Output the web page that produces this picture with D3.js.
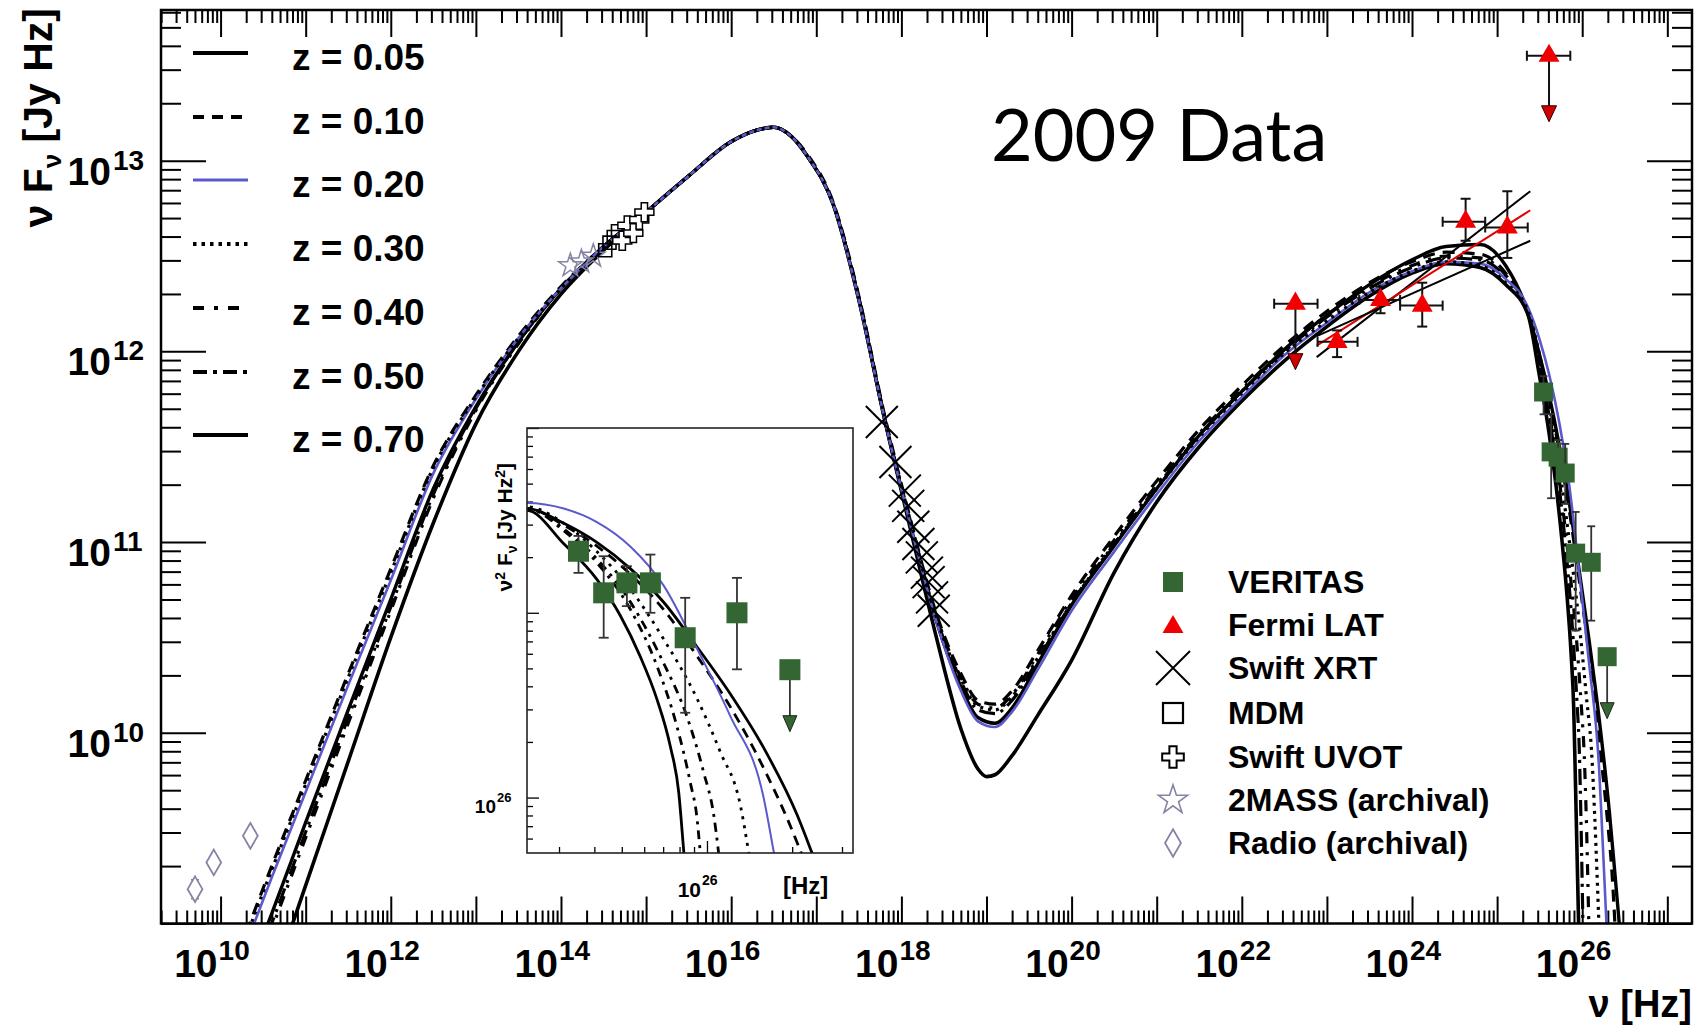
<!DOCTYPE html>
<html>
<head>
  <meta charset="utf-8">
  <title>SED model curves - 2009 Data</title>
  <script src="https://d3js.org/d3.v7.min.js"></script>
  <style>
    body { margin: 0; background: #fff; }
    svg text { font-family: "Liberation Sans", Arial, Helvetica, sans-serif; font-weight: bold; fill: #000; }
    .frame { fill: none; stroke: #000; stroke-width: 2.5px; }
    .axis path { display: none; }
    .axis line { stroke: #000; stroke-width: 2px; }
    .inaxis line { stroke: #000; stroke-width: 1.3px; }
    .inaxis path { display: none; }
  </style>
</head>
<body>
<svg id="chart" width="1704" height="1026"></svg>
<script>
// ---------- data, all values are log10 (nu in Hz, nuFnu in Jy Hz) ----------
var redshifts = ["0.05", "0.10", "0.20", "0.30", "0.40", "0.50", "0.70"];

var sedZ005 = [[10.3,8.70],[10.6,9.05],[11.0,9.53],[11.5,10.12],[12.0,10.70],[12.5,11.28],[13.0,11.71],[13.5,12.05],[14.0,12.33],[14.5,12.55],[15.0,12.73],[15.5,12.92],[16.0,13.10],[16.3,13.16],[16.5,13.175],[16.7,13.13],[16.9,13.02],[17.2,12.77],[17.5,12.27],[17.8,11.65],[18.1,11.10],[18.4,10.60],[18.7,10.24],[18.9,10.08],[19.1,10.05],[19.3,10.13],[19.6,10.36],[20.0,10.67],[20.5,10.98],[21.0,11.28],[21.5,11.56],[22.0,11.79],[22.5,12.01],[23.0,12.19],[23.5,12.35],[24.0,12.48],[24.4,12.55],[24.8,12.56],[25.1,12.45],[25.364,12.20],[25.494,11.99],[25.611,11.77],[25.729,11.51],[25.847,11.21],[25.965,10.85],[26.082,10.48],[26.2,10.07],[26.318,9.59],[26.371,9.33],[26.445,8.95]];
var sedZ010 = [[10.3,8.95],[10.6,9.30],[11.0,9.75],[11.5,10.31],[12.0,10.86],[12.5,11.40],[13.0,11.77],[13.5,12.08],[14.0,12.34],[14.5,12.55],[15.0,12.73],[15.5,12.92],[16.0,13.10],[16.3,13.16],[16.5,13.175],[16.7,13.13],[16.9,13.03],[17.2,12.78],[17.5,12.29],[17.8,11.67],[18.1,11.13],[18.4,10.64],[18.7,10.31],[18.9,10.17],[19.1,10.15],[19.3,10.22],[19.6,10.43],[20.0,10.72],[20.5,11.03],[21.0,11.32],[21.5,11.59],[22.0,11.82],[22.5,12.03],[23.0,12.21],[23.5,12.36],[24.0,12.47],[24.4,12.52],[24.8,12.51],[25.1,12.41],[25.364,12.20],[25.494,11.98],[25.611,11.75],[25.729,11.48],[25.847,11.17],[25.965,10.80],[26.082,10.41],[26.2,9.96],[26.318,9.44],[26.34,9.33],[26.39,8.95]];
var sedZ020 = [[10.3,8.89],[10.6,9.24],[11.0,9.69],[11.5,10.25],[12.0,10.80],[12.5,11.36],[13.0,11.75],[13.5,12.07],[14.0,12.33],[14.5,12.55],[15.0,12.73],[15.5,12.92],[16.0,13.10],[16.3,13.16],[16.5,13.175],[16.7,13.13],[16.9,13.02],[17.2,12.77],[17.5,12.27],[17.8,11.65],[18.1,11.10],[18.4,10.60],[18.7,10.22],[18.9,10.06],[19.1,10.03],[19.3,10.11],[19.6,10.33],[20.0,10.64],[20.5,10.95],[21.0,11.25],[21.5,11.53],[22.0,11.76],[22.5,11.98],[23.0,12.15],[23.5,12.31],[24.0,12.42],[24.4,12.47],[24.8,12.46],[25.1,12.38],[25.364,12.23],[25.494,12.07],[25.611,11.88],[25.729,11.63],[25.847,11.30],[25.965,10.84],[26.082,10.36],[26.2,9.80],[26.236,9.47],[26.29,8.95]];
var sedZ030 = [[10.3,8.93],[10.6,9.28],[11.0,9.73],[11.5,10.29],[12.0,10.84],[12.5,11.39],[13.0,11.76],[13.5,12.07],[14.0,12.33],[14.5,12.55],[15.0,12.73],[15.5,12.92],[16.0,13.10],[16.3,13.16],[16.5,13.175],[16.7,13.13],[16.9,13.02],[17.2,12.77],[17.5,12.28],[17.8,11.66],[18.1,11.12],[18.4,10.62],[18.7,10.28],[18.9,10.14],[19.1,10.12],[19.3,10.19],[19.6,10.39],[20.0,10.68],[20.5,10.99],[21.0,11.28],[21.5,11.55],[22.0,11.78],[22.5,11.99],[23.0,12.16],[23.5,12.31],[24.0,12.42],[24.4,12.47],[24.8,12.45],[25.1,12.36],[25.364,12.21],[25.494,11.99],[25.611,11.72],[25.729,11.40],[25.847,11.01],[25.965,10.57],[26.047,10.20],[26.118,9.84],[26.147,9.56],[26.2,8.95]];
var sedZ040 = [[10.3,8.62],[10.6,8.97],[11.0,9.45],[11.5,10.05],[12.0,10.64],[12.5,11.23],[13.0,11.69],[13.5,12.04],[14.0,12.33],[14.5,12.55],[15.0,12.73],[15.5,12.92],[16.0,13.10],[16.3,13.16],[16.5,13.175],[16.7,13.13],[16.9,13.02],[17.2,12.77],[17.5,12.28],[17.8,11.66],[18.1,11.12],[18.4,10.63],[18.7,10.29],[18.9,10.15],[19.1,10.13],[19.3,10.20],[19.6,10.41],[20.0,10.70],[20.5,11.01],[21.0,11.30],[21.5,11.57],[22.0,11.80],[22.5,12.01],[23.0,12.19],[23.5,12.34],[24.0,12.45],[24.4,12.50],[24.8,12.49],[25.1,12.40],[25.364,12.20],[25.494,11.96],[25.611,11.68],[25.729,11.33],[25.847,10.88],[25.929,10.51],[25.988,10.15],[26.024,9.88],[26.041,9.66],[26.08,8.95]];
var sedZ050 = [[10.3,8.65],[10.6,9.00],[11.0,9.48],[11.5,10.08],[12.0,10.66],[12.5,11.25],[13.0,11.70],[13.5,12.05],[14.0,12.33],[14.5,12.55],[15.0,12.73],[15.5,12.92],[16.0,13.10],[16.3,13.16],[16.5,13.175],[16.7,13.13],[16.9,13.02],[17.2,12.77],[17.5,12.28],[17.8,11.65],[18.1,11.11],[18.4,10.62],[18.7,10.27],[18.9,10.12],[19.1,10.10],[19.3,10.17],[19.6,10.38],[20.0,10.68],[20.5,10.99],[21.0,11.29],[21.5,11.56],[22.0,11.79],[22.5,12.00],[23.0,12.18],[23.5,12.33],[24.0,12.44],[24.4,12.49],[24.8,12.48],[25.1,12.39],[25.364,12.20],[25.494,11.95],[25.611,11.66],[25.729,11.29],[25.823,10.89],[25.894,10.49],[25.941,10.14],[25.965,9.92],[25.976,9.73],[26.01,8.95]];
var sedZ070 = [[10.3,8.30],[10.6,8.68],[11.0,9.20],[11.5,9.85],[12.0,10.50],[12.5,11.10],[13.0,11.62],[13.5,12.00],[14.0,12.30],[14.5,12.53],[15.0,12.73],[15.5,12.92],[16.0,13.10],[16.3,13.16],[16.5,13.175],[16.7,13.13],[16.9,13.02],[17.2,12.77],[17.5,12.27],[17.8,11.65],[18.1,11.08],[18.4,10.52],[18.7,10.02],[18.9,9.81],[19.0,9.77],[19.1,9.78],[19.3,9.88],[19.6,10.09],[20.0,10.38],[20.5,10.84],[21.0,11.21],[21.5,11.50],[22.0,11.74],[22.5,11.95],[23.0,12.13],[23.5,12.29],[24.0,12.41],[24.4,12.46],[24.8,12.44],[25.1,12.35],[25.364,12.19],[25.494,11.88],[25.611,11.57],[25.694,11.29],[25.764,11.00],[25.823,10.71],[25.870,10.41],[25.900,10.13],[25.918,9.79],[25.96,8.95]];

var veritasNu    = [25.546, 25.635, 25.717, 25.800, 25.923, 26.106, 26.293];
var veritasFlux  = [11.787, 11.473, 11.445, 11.362, 10.942, 10.894, 10.399];
var veritasLo    = [11.670, 11.230, 11.319, 11.200, 10.536, 10.588, null];
var veritasHi    = [11.870, 11.671, 11.535, 11.515, 11.158, 11.083, null];
var veritasUL    = [false, false, false, false, false, false, true];

var fermiNu      = [22.63, 23.12, 23.63, 24.12, 24.63, 25.12, 25.61];
var fermiFlux    = [12.25, 12.05, 12.27, 12.24, 12.68, 12.65, 13.55];
var fermiNuLo    = [22.38, 22.89, 23.38, 23.86, 24.36, 24.86, 25.35];
var fermiNuHi    = [22.89, 23.36, 23.86, 24.36, 24.86, 25.36, 25.86];
var fermiLo      = [null, 11.97, 12.20, 12.13, 12.58, 12.49, null];
var fermiHi      = [null, 12.11, 12.34, 12.36, 12.80, 12.84, null];
var fermiUL      = [true, false, false, false, false, false, true];
// Fermi power-law fit (butterfly): [nu start, nu end, flux start, flux end]
var fermiFitUpper = [22.88, 25.39, 11.97, 12.84];
var fermiFitBest  = [22.88, 25.39, 12.03, 12.74];
var fermiFitLower = [22.88, 25.39, 12.08, 12.58];

var xrtNu   = [17.77, 17.93, 18.04, 18.08, 18.14, 18.20, 18.24, 18.30, 18.32, 18.36, 18.38];
var xrtFlux = [11.63, 11.42, 11.27, 11.19, 11.08, 10.99, 10.92, 10.84, 10.79, 10.71, 10.64];
var mdmNu   = [14.52, 14.57, 14.62, 14.67];
var mdmFlux = [12.53, 12.57, 12.60, 12.63];
var uvotNu   = [14.72, 14.78, 14.85, 14.92, 14.98];
var uvotFlux = [12.58, 12.66, 12.62, 12.69, 12.73];
var twomassNu   = [14.11, 14.24, 14.38];
var twomassFlux = [12.45, 12.47, 12.50];
var radioNu   = [9.70, 9.92, 10.35];
var radioFlux = [9.18, 9.32, 9.46];
var radioLo   = [9.13, null, null];
var radioHi   = [9.23, null, null];

var dataLegend = ["VERITAS", "Fermi LAT", "Swift XRT", "MDM", "Swift UVOT", "2MASS (archival)", "Radio (archival)"];

// ---------- layout ----------
var X0 = 161, X1 = 1692, Y0 = 10, Y1 = 923.5;
var IX0 = 527, IX1 = 853, IY0 = 428, IY1 = 853;
var GREEN = "#336633", BLUE = "#5a5acc", GREY = "#8484a4";

function p10(v) { return Math.pow(10, v); }

var svg = d3.select("#chart");
svg.append("rect").attr("width", 1704).attr("height", 1026).attr("fill", "#fff");

var x = d3.scaleLog().domain([p10(9.30), p10(27.29)]).range([X0, X1]);
var y = d3.scaleLog().domain([p10(9.0), p10(13.79)]).range([Y1, Y0]);

var defs = svg.append("defs");
defs.append("clipPath").attr("id", "clipMain").append("rect")
  .attr("x", X0).attr("y", Y0).attr("width", X1 - X0).attr("height", Y1 - Y0);
defs.append("clipPath").attr("id", "clipInset").append("rect")
  .attr("x", IX0).attr("y", IY0).attr("width", IX1 - IX0).attr("height", IY1 - IY0);

// styles per redshift
var seriesData = { "0.05": sedZ005, "0.10": sedZ010, "0.20": sedZ020, "0.30": sedZ030,
                   "0.40": sedZ040, "0.50": sedZ050, "0.70": sedZ070 };
var lineStyle = {
  "0.05": { color: "#000", width: 3.4, dash: null },
  "0.10": { color: "#000", width: 3.2, dash: "12,8" },
  "0.20": { color: BLUE,   width: 2.6, dash: null },
  "0.30": { color: "#000", width: 3.2, dash: "3,5" },
  "0.40": { color: "#000", width: 3.2, dash: "11,9,3,9" },
  "0.50": { color: "#000", width: 3.2, dash: "16,6,3,6" },
  "0.70": { color: "#000", width: 3.6, dash: null }
};
var drawOrder = ["0.05", "0.70", "0.50", "0.40", "0.10", "0.20", "0.30"];

// ---------- axes (ROOT style, ticks inside, mirrored) ----------
function decadeTicks(lo, hi) {
  var major = [], minor = [];
  for (var k = Math.floor(lo) - 1; k <= Math.ceil(hi); k++) {
    if (k >= lo && k <= hi) major.push(p10(k));
    for (var m = 2; m <= 9; m++) {
      var v = m * p10(k);
      if (Math.log10(v) > lo && Math.log10(v) < hi) minor.push(v);
    }
  }
  return { major: major, minor: minor };
}
var xt = decadeTicks(9.30, 27.29), yt = decadeTicks(9.0, 13.79);

function addAxis(axisFn, scale, values, size, transform) {
  svg.append("g").attr("class", "axis").attr("transform", transform)
    .call(axisFn(scale).tickValues(values).tickSize(-size).tickFormat(""));
}
addAxis(d3.axisBottom, x, xt.major, 27, "translate(0," + Y1 + ")");
addAxis(d3.axisBottom, x, xt.minor, 13, "translate(0," + Y1 + ")");
addAxis(d3.axisTop, x, xt.major, 27, "translate(0," + Y0 + ")");
addAxis(d3.axisTop, x, xt.minor, 13, "translate(0," + Y0 + ")");
addAxis(d3.axisLeft, y, yt.major, 45, "translate(" + X0 + ",0)");
addAxis(d3.axisLeft, y, yt.minor, 20, "translate(" + X0 + ",0)");
addAxis(d3.axisRight, y, yt.major, 45, "translate(" + X1 + ",0)");
addAxis(d3.axisRight, y, yt.minor, 20, "translate(" + X1 + ",0)");

// tick labels 10^n
var xLabelExp = [10, 12, 14, 16, 18, 20, 22, 24, 26];
var xl = svg.append("g").selectAll("g").data(xLabelExp).join("g")
  .attr("transform", function(d) { return "translate(" + x(p10(d)) + ",0)"; });
xl.append("text").attr("x", -3).attr("y", 977).attr("text-anchor", "end")
  .style("font-size", "39px").text("10");
xl.append("text").attr("x", -2).attr("y", 960).style("font-size", "28px")
  .text(function(d) { return d; });

var yLabelExp = [10, 11, 12, 13];
var yl = svg.append("g").selectAll("g").data(yLabelExp).join("g")
  .attr("transform", function(d) { return "translate(0," + y(p10(d)) + ")"; });
yl.append("text").attr("x", 111).attr("y", 24).attr("text-anchor", "end")
  .style("font-size", "39px").text("10");
yl.append("text").attr("x", 113).attr("y", 9).style("font-size", "28px")
  .text(function(d) { return d; });

// axis titles
var ytitle = svg.append("text").attr("transform", "translate(52,8) rotate(-90)")
  .attr("text-anchor", "end").style("font-size", "41px");
ytitle.append("tspan").text("\u03bd F");
ytitle.append("tspan").attr("dy", 9).style("font-size", "26px").text("\u03bd");
ytitle.append("tspan").attr("dy", -9).text(" [Jy Hz]");

svg.append("text").attr("x", X1).attr("y", 1017).attr("text-anchor", "end")
  .style("font-size", "38px").text("\u03bd [Hz]");

// ---------- model curves ----------
var line = d3.line()
  .x(function(d) { return x(p10(d[0])); })
  .y(function(d) { return y(p10(d[1])); })
  .curve(d3.curveMonotoneX);

var curves = svg.append("g").attr("clip-path", "url(#clipMain)");
drawOrder.forEach(function(z) {
  var st = lineStyle[z];
  curves.append("path").datum(seriesData[z]).attr("d", line)
    .attr("fill", "none").attr("stroke", st.color).attr("stroke-width", st.width)
    .attr("stroke-dasharray", st.dash).attr("stroke-linejoin", "round");
});

// ---------- markers ----------
var sym = d3.symbol();
function xPath(h) { return "M" + (-h) + "," + (-h) + "L" + h + "," + h + "M" + (-h) + "," + h + "L" + h + "," + (-h); }
function downTri(w, h) { return "M" + (-w / 2) + "," + (-h) + "L" + (w / 2) + "," + (-h) + "L0,0Z"; }

var marks = svg.append("g").attr("clip-path", "url(#clipMain)");

// radio
radioNu.forEach(function(n, i) {
  var cx = x(p10(n)), cy = y(p10(radioFlux[i]));
  if (radioLo[i] !== null) {
    marks.append("line").attr("x1", cx).attr("x2", cx).attr("y1", y(p10(radioLo[i]))).attr("y2", y(p10(radioHi[i])))
      .attr("stroke", GREY).attr("stroke-width", 1.5);
    [radioLo[i], radioHi[i]].forEach(function(v) {
      marks.append("line").attr("x1", cx - 4).attr("x2", cx + 4).attr("y1", y(p10(v))).attr("y2", y(p10(v)))
        .attr("stroke", GREY).attr("stroke-width", 1.5);
    });
  }
  marks.append("path").attr("transform", "translate(" + cx + "," + cy + ")")
    .attr("d", sym.type(d3.symbolDiamond).size(190)()).attr("fill", "#fff")
    .attr("stroke", GREY).attr("stroke-width", 1.8);
});
// 2MASS
twomassNu.forEach(function(n, i) {
  marks.append("path").attr("transform", "translate(" + x(p10(n)) + "," + y(p10(twomassFlux[i])) + ")")
    .attr("d", sym.type(d3.symbolStar).size(170)()).attr("fill", "none")
    .attr("stroke", GREY).attr("stroke-width", 1.5);
});
// MDM
mdmNu.forEach(function(n, i) {
  marks.append("path").attr("transform", "translate(" + x(p10(n)) + "," + y(p10(mdmFlux[i])) + ")")
    .attr("d", sym.type(d3.symbolSquare).size(170)()).attr("fill", "none")
    .attr("stroke", "#000").attr("stroke-width", 1.6);
});
// UVOT
uvotNu.forEach(function(n, i) {
  marks.append("path").attr("transform", "translate(" + x(p10(n)) + "," + y(p10(uvotFlux[i])) + ")")
    .attr("d", sym.type(d3.symbolCross).size(200)()).attr("fill", "#fff")
    .attr("stroke", "#000").attr("stroke-width", 1.5);
});
// XRT
xrtNu.forEach(function(n, i) {
  marks.append("path").attr("transform", "translate(" + x(p10(n)) + "," + y(p10(xrtFlux[i])) + ")")
    .attr("d", xPath(16)).attr("fill", "none").attr("stroke", "#000").attr("stroke-width", 2);
});

// Fermi butterfly
[[fermiFitUpper, "#000"], [fermiFitBest, "#e00000"], [fermiFitLower, "#000"]].forEach(function(f) {
  var d = f[0];
  marks.append("line").attr("x1", x(p10(d[0]))).attr("x2", x(p10(d[1])))
    .attr("y1", y(p10(d[2]))).attr("y2", y(p10(d[3])))
    .attr("stroke", f[1]).attr("stroke-width", 2);
});

// Fermi points
fermiNu.forEach(function(n, i) {
  var cx = x(p10(n)), cy = y(p10(fermiFlux[i]));
  var xa = x(p10(fermiNuLo[i])), xb = x(p10(fermiNuHi[i]));
  var eb = marks.append("g").attr("stroke", "#111").attr("stroke-width", 2);
  eb.append("line").attr("x1", xa).attr("x2", xb).attr("y1", cy).attr("y2", cy);
  eb.append("line").attr("x1", xa).attr("x2", xa).attr("y1", cy - 5).attr("y2", cy + 5);
  eb.append("line").attr("x1", xb).attr("x2", xb).attr("y1", cy - 5).attr("y2", cy + 5);
  if (fermiUL[i]) {
    eb.append("line").attr("x1", cx).attr("x2", cx).attr("y1", cy).attr("y2", cy + 52);
    marks.append("path").attr("transform", "translate(" + cx + "," + (cy + 66) + ")")
      .attr("d", downTri(15, 16)).attr("fill", "#d00000").attr("stroke", "#300").attr("stroke-width", 1);
  } else {
    var ya = y(p10(fermiLo[i])), yb = y(p10(fermiHi[i]));
    eb.append("line").attr("x1", cx).attr("x2", cx).attr("y1", ya).attr("y2", yb);
    eb.append("line").attr("x1", cx - 5).attr("x2", cx + 5).attr("y1", ya).attr("y2", ya);
    eb.append("line").attr("x1", cx - 5).attr("x2", cx + 5).attr("y1", yb).attr("y2", yb);
  }
  marks.append("path").attr("transform", "translate(" + cx + "," + cy + ")")
    .attr("d", sym.type(d3.symbolTriangle).size(190)()).attr("fill", "#f00000");
});

// VERITAS points
function drawVeritas(g, sx, sy, conv, sq, cap, arrow) {
  veritasNu.forEach(function(n, i) {
    var cx = sx(p10(n)), cy = sy(p10(conv(veritasFlux[i], n)));
    var eb = g.append("g").attr("stroke", "#333").attr("stroke-width", 1.8);
    if (veritasUL[i]) {
      eb.append("line").attr("x1", cx).attr("x2", cx).attr("y1", cy).attr("y2", cy + arrow - 14);
      g.append("path").attr("transform", "translate(" + cx + "," + (cy + arrow) + ")")
        .attr("d", downTri(14, 16)).attr("fill", GREEN).attr("stroke", "#222").attr("stroke-width", 1);
    } else {
      var ya = sy(p10(conv(veritasLo[i], n))), yb = sy(p10(conv(veritasHi[i], n)));
      eb.append("line").attr("x1", cx).attr("x2", cx).attr("y1", ya).attr("y2", yb);
      eb.append("line").attr("x1", cx - cap).attr("x2", cx + cap).attr("y1", ya).attr("y2", ya);
      eb.append("line").attr("x1", cx - cap).attr("x2", cx + cap).attr("y1", yb).attr("y2", yb);
    }
    g.append("rect").attr("x", cx - sq / 2).attr("y", cy - sq / 2).attr("width", sq).attr("height", sq)
      .attr("fill", GREEN);
  });
}
drawVeritas(marks, x, y, function(v) { return v; }, 19, 4, 62);

// ---------- frame ----------
svg.append("rect").attr("class", "frame").attr("x", X0).attr("y", Y0)
  .attr("width", X1 - X0).attr("height", Y1 - Y0);

// ---------- z legend ----------
var zRows = [53, 117, 180, 244, 308, 372, 435];
var zl = svg.append("g").selectAll("g").data(redshifts).join("g")
  .attr("transform", function(d, i) { return "translate(0," + zRows[i] + ")"; });
zl.append("line").attr("x1", 193).attr("x2", 248).attr("y1", 0).attr("y2", 0)
  .attr("stroke", function(d) { return lineStyle[d].color; })
  .attr("stroke-width", function(d) { return d === "0.20" ? 3 : 4.2; })
  .attr("stroke-dasharray", function(d) {
    return { "0.10": "11,8", "0.30": "3.5,5", "0.40": "11,10,4,10", "0.50": "14,6,4,6" }[d] || null;
  });
zl.append("text").attr("x", 292).attr("y", 17).style("font-size", "37px")
  .text(function(d) { return "z = " + d; });

// ---------- data legend ----------
var lgY = [582, 625, 668, 713, 757, 800, 843], LX = 1173;
var lg = svg.append("g");
lg.append("rect").attr("x", LX - 10).attr("y", lgY[0] - 10).attr("width", 20).attr("height", 20).attr("fill", GREEN);
lg.append("path").attr("transform", "translate(" + LX + "," + (lgY[1] + 2) + ")")
  .attr("d", sym.type(d3.symbolTriangle).size(190)()).attr("fill", "#f00000");
lg.append("path").attr("transform", "translate(" + LX + "," + lgY[2] + ")")
  .attr("d", xPath(17)).attr("stroke", "#000").attr("stroke-width", 2);
lg.append("rect").attr("x", LX - 10).attr("y", lgY[3] - 10).attr("width", 20).attr("height", 20)
  .attr("fill", "none").attr("stroke", "#000").attr("stroke-width", 2.2);
lg.append("path").attr("transform", "translate(" + LX + "," + lgY[4] + ")")
  .attr("d", sym.type(d3.symbolCross).size(260)()).attr("fill", "#fff").attr("stroke", "#000").attr("stroke-width", 2);
lg.append("path").attr("transform", "translate(" + LX + "," + lgY[5] + ")")
  .attr("d", sym.type(d3.symbolStar).size(260)()).attr("fill", "none").attr("stroke", GREY).attr("stroke-width", 1.6);
lg.append("path").attr("transform", "translate(" + LX + "," + lgY[6] + ")")
  .attr("d", sym.type(d3.symbolDiamond).size(220)()).attr("fill", "none").attr("stroke", GREY).attr("stroke-width", 1.8);
lg.selectAll("text").data(dataLegend).join("text")
  .attr("x", 1228).attr("y", function(d, i) { return lgY[i] + 11; })
  .style("font-size", "32px").text(function(d) { return d; });

// ---------- "2009 Data" ----------
svg.append("text").attr("x", 991).attr("y", 161)
  .style("font-family", "'Gill Sans', Lato, 'Open Sans', sans-serif").style("font-weight", "normal")
  .style("font-size", "72px").text("2009 Data");

// ---------- inset: nu^2 F_nu around the VHE cutoff ----------
var xi = d3.scaleLog().domain([p10(25.364), p10(26.516)]).range([IX0, IX1]);
var yi = d3.scaleLog().domain([p10(25.70), p10(28.0)]).range([IY1, IY0]);
function toNu2(m, n) { return m + n - 10; }

svg.append("rect").attr("x", IX0).attr("y", IY0).attr("width", IX1 - IX0).attr("height", IY1 - IY0)
  .attr("fill", "#fff");

var xti = decadeTicks(25.364, 26.516), yti = decadeTicks(25.70, 28.0);
function addInAxis(axisFn, scale, values, size, transform) {
  svg.append("g").attr("class", "inaxis").attr("transform", transform)
    .call(axisFn(scale).tickValues(values).tickSize(-size).tickFormat(""));
}
addInAxis(d3.axisBottom, xi, xti.major, 12, "translate(0," + IY1 + ")");
addInAxis(d3.axisBottom, xi, xti.minor, 6, "translate(0," + IY1 + ")");
addInAxis(d3.axisLeft, yi, yti.major, 12, "translate(" + IX0 + ",0)");
addInAxis(d3.axisLeft, yi, yti.minor, 6, "translate(" + IX0 + ",0)");

var lineIn = d3.line()
  .x(function(d) { return xi(p10(d[0])); })
  .y(function(d) { return yi(p10(toNu2(d[1], d[0]))); })
  .curve(d3.curveMonotoneX);
var inCurves = svg.append("g").attr("clip-path", "url(#clipInset)");
drawOrder.forEach(function(z) {
  var st = lineStyle[z];
  var pts = seriesData[z].filter(function(d) { return d[0] >= 25.0; });
  inCurves.append("path").datum(pts).attr("d", lineIn)
    .attr("fill", "none").attr("stroke", st.color).attr("stroke-width", z === "0.20" ? 2 : 2.8)
    .attr("stroke-dasharray", st.dash ? (z === "0.30" ? "3,6" : z === "0.10" ? "10,7" : "9,6,3,6") : null);
});
drawVeritas(svg.append("g"), xi, yi, toNu2, 21, 5, 62);

svg.append("rect").attr("x", IX0).attr("y", IY0).attr("width", IX1 - IX0).attr("height", IY1 - IY0)
  .attr("fill", "none").attr("stroke", "#222").attr("stroke-width", 1.6);

// inset labels
svg.append("text").attr("x", 701).attr("y", 897).attr("text-anchor", "end").style("font-size", "21px").text("10");
svg.append("text").attr("x", 702).attr("y", 885).style("font-size", "14px").text("26");
svg.append("text").attr("x", 783).attr("y", 894).style("font-size", "24px").text("[Hz]");
svg.append("text").attr("x", 496).attr("y", yi(1e26) + 15).attr("text-anchor", "end").style("font-size", "19px").text("10");
svg.append("text").attr("x", 497).attr("y", yi(1e26) + 4).style("font-size", "13px").text("26");
var iyt = svg.append("text").attr("transform", "translate(512,463) rotate(-90)")
  .attr("text-anchor", "end").style("font-size", "21px");
iyt.append("tspan").text("\u03bd");
iyt.append("tspan").attr("dy", -7).style("font-size", "14px").text("2");
iyt.append("tspan").attr("dy", 7).text(" F");
iyt.append("tspan").attr("dy", 5).style("font-size", "14px").text("\u03bd");
iyt.append("tspan").attr("dy", -5).text("  [Jy Hz");
iyt.append("tspan").attr("dy", -7).style("font-size", "14px").text("2");
iyt.append("tspan").attr("dy", 7).text("]");
</script>
</body>
</html>
